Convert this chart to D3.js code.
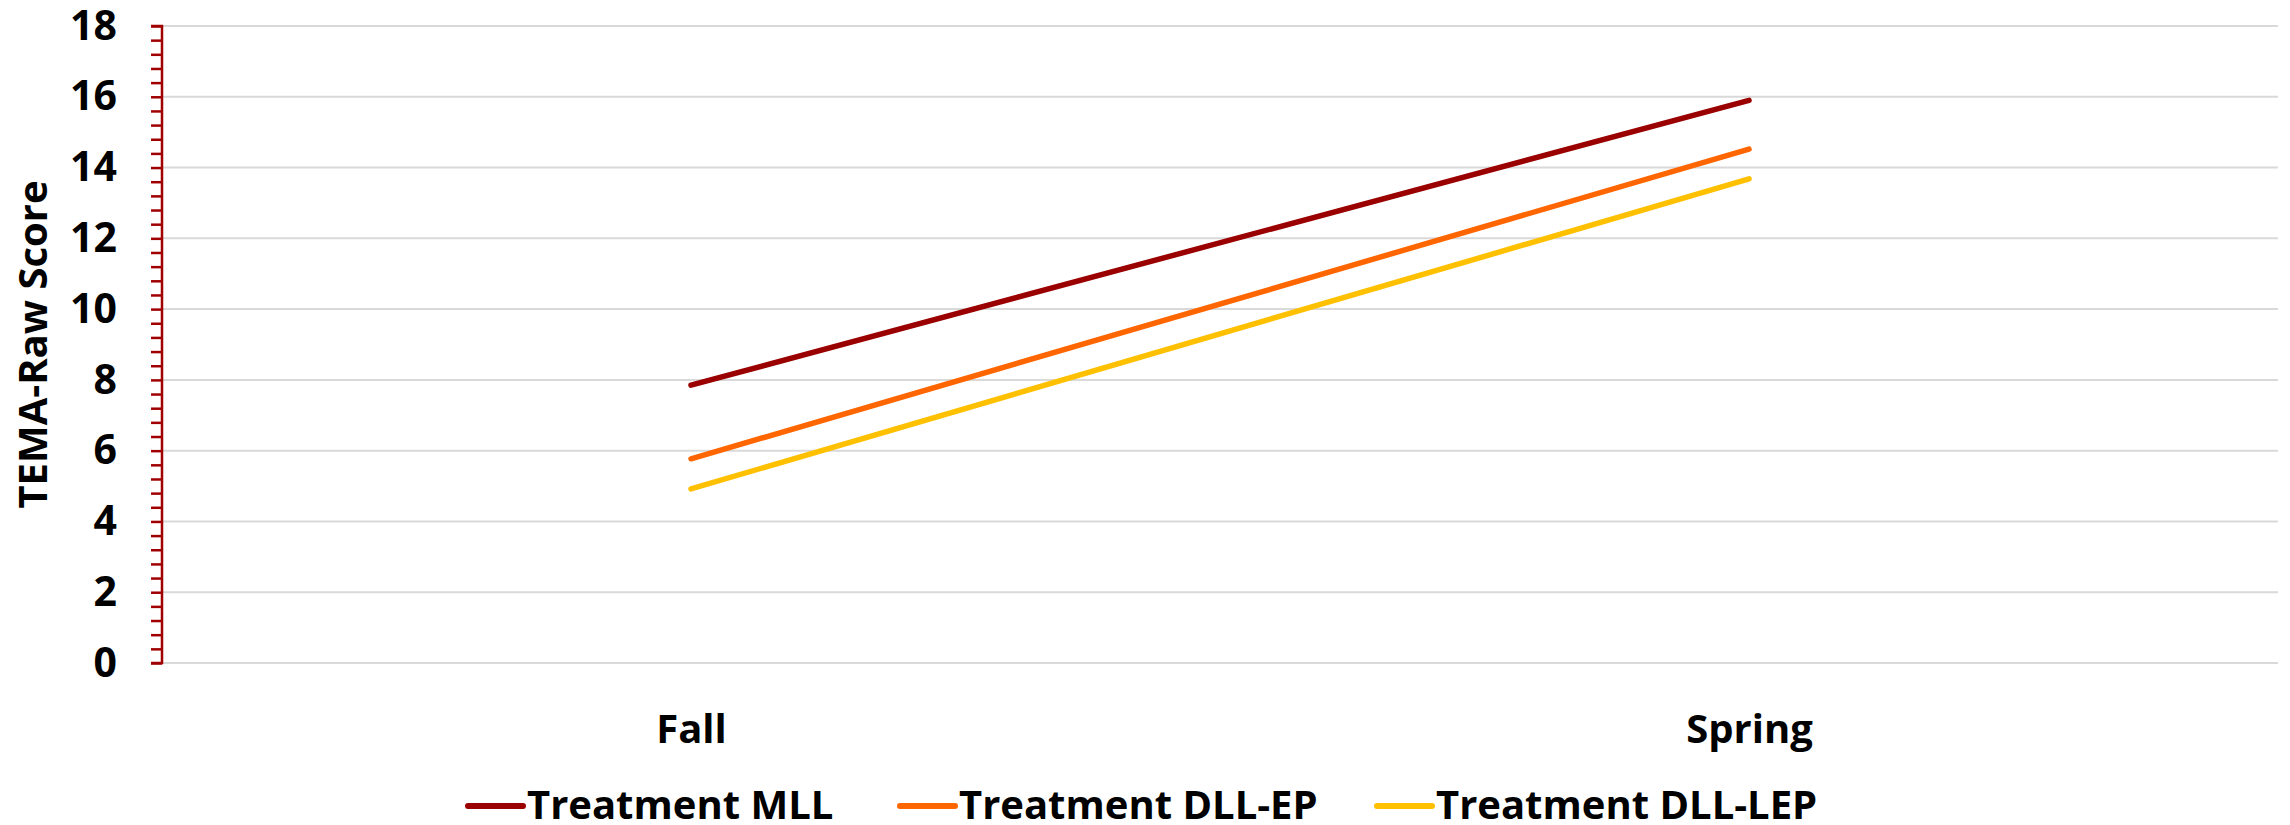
<!DOCTYPE html>
<html>
<head>
<meta charset="utf-8">
<script src="https://cdn.jsdelivr.net/npm/d3@7"></script>
<style>
  html, body { margin: 0; padding: 0; background: #ffffff; }
  svg { display: block; }
  text { font-family: "Open Sans", "Liberation Sans", sans-serif; font-weight: 700; fill: #000; }
</style>
</head>
<body>
<svg id="chart" width="2290" height="825"></svg>
<script>
const categories = ["Fall", "Spring"];
const seriesNames = ["Treatment MLL", "Treatment DLL-EP", "Treatment DLL-LEP"];
const mllValues = [7.85, 15.9];
const dllEpValues = [5.77, 14.52];
const dllLepValues = [4.92, 13.68];
const seriesColors = ["#9a0000", "#ff6600", "#ffc000"];
const yTickLabels = [0, 2, 4, 6, 8, 10, 12, 14, 16, 18];
const yTitle = "TEMA-Raw Score";

const series = [
  { name: seriesNames[0], values: mllValues, color: seriesColors[0] },
  { name: seriesNames[1], values: dllEpValues, color: seriesColors[1] },
  { name: seriesNames[2], values: dllLepValues, color: seriesColors[2] }
];

const svg = d3.select("#chart");
const mLeft = 162, mRight = 2278, mTop = 26, mBottom = 663;
const FS = 40;

const x = d3.scalePoint().domain(categories).range([mLeft, mRight]).padding(0.5);
const y = d3.scaleLinear().domain([0, 18]).range([mBottom, mTop]);

// gridlines
svg.append("g").selectAll("line").data(yTickLabels).join("line")
  .attr("x1", mLeft).attr("x2", mRight)
  .attr("y1", d => y(d)).attr("y2", d => y(d))
  .attr("stroke", "#d9d9d9").attr("stroke-width", 2);

// axis with minor ticks
const minorTicks = d3.range(0, 46).map(i => +(i * 0.4).toFixed(1));
const axisG = svg.append("g").attr("transform", `translate(${mLeft},0)`)
  .call(d3.axisLeft(y).tickValues(minorTicks).tickSize(11).tickFormat(""));
axisG.selectAll("path, line").attr("stroke", "#a00000").attr("stroke-width", 2.5);
axisG.select("path.domain").attr("d", `M-11,${y(18)}H0V${y(0)}H-11`);

// tick labels
const labG = svg.append("g").attr("transform", `translate(${mLeft},0)`)
  .call(d3.axisLeft(y).tickValues(yTickLabels).tickSize(0).tickPadding(45).tickFormat(d3.format("d")));
labG.select("path.domain").remove();
labG.selectAll("text").style("font-size", (FS + 1) + "px").style("font-family", '"Open Sans", sans-serif')
  .style("font-weight", 700).attr("fill", "#000");

// x labels
const xG = svg.append("g").attr("transform", `translate(0,${mBottom})`)
  .call(d3.axisBottom(x).tickSize(0).tickPadding(52));
xG.select("path.domain").remove();
xG.selectAll("text").style("font-size", FS + "px").style("font-family", '"Open Sans", sans-serif')
  .style("font-weight", 700).attr("fill", "#000");

// y title
svg.append("text")
  .attr("transform", `translate(47,${(mTop + mBottom) / 2}) rotate(-90)`)
  .attr("text-anchor", "middle")
  .style("font-size", FS + "px")
  .text(yTitle);

// lines
const line = d3.line().x((d, i) => x(categories[i])).y(d => y(d));
svg.append("g").selectAll("path").data(series).join("path")
  .attr("d", d => line(d.values))
  .attr("fill", "none")
  .attr("stroke", d => d.color)
  .attr("stroke-width", 5.5)
  .attr("stroke-linecap", "round");

// legend
const legY = 806, lineLen = 55, lineGap = 4;
const legendStarts = [468, 900, 1377];
const legG = svg.append("g");
const items = legG.selectAll("g").data(series).join("g")
  .attr("transform", (d, i) => `translate(${legendStarts[i]},${legY})`);
items.append("line")
  .attr("x1", 0).attr("x2", lineLen).attr("y1", 0).attr("y2", 0)
  .attr("stroke", d => d.color).attr("stroke-width", 6).attr("stroke-linecap", "round");
items.append("text")
  .attr("x", lineLen + lineGap).attr("y", 13)
  .style("font-size", FS + "px")
  .text(d => d.name);
</script>
</body>
</html>
